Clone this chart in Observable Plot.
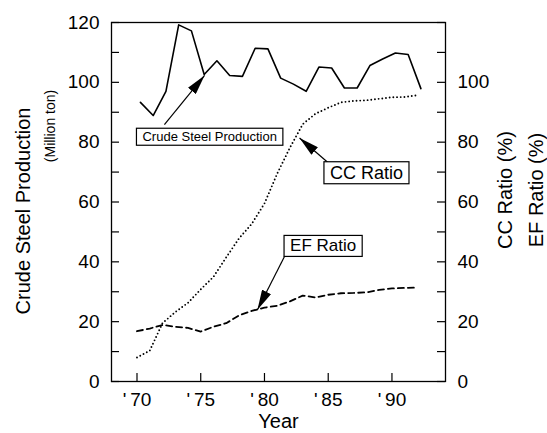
<!DOCTYPE html>
<html>
<head>
<meta charset="utf-8">
<script src="https://cdn.jsdelivr.net/npm/d3@7"></script>
<script src="https://cdn.jsdelivr.net/npm/@observablehq/plot@0.6"></script>
<style>
  html, body { margin: 0; padding: 0; background: #fff; }
  svg { display: block; }
</style>
</head>
<body>
<div id="chart"></div>
<script>
// ---- data ----
const years = [1970, 1971, 1972, 1973, 1974, 1975, 1976, 1977, 1978, 1979, 1980,
               1981, 1982, 1983, 1984, 1985, 1986, 1987, 1988, 1989, 1990, 1991, 1992];
// Crude steel production (million ton), left axis
const steelProduction = [93.3, 88.9, 97.0, 119.2, 117.2, 102.6, 107.2, 102.3, 102.0, 111.4, 111.2,
                         101.4, 99.4, 97.0, 105.1, 104.8, 98.1, 98.1, 105.6, 107.8, 109.8, 109.3, 97.9];
// Continuous casting ratio (%), right axis
const ccRatio = [8.0, 10.3, 19.5, 23.2, 26.3, 30.8, 35.0, 41.5, 47.8, 52.7, 59.5,
                 69.5, 78.2, 86.0, 89.5, 91.5, 93.3, 93.8, 94.0, 94.5, 95.0, 95.1, 95.7];
// Electric furnace ratio (%), right axis
const efRatio = [16.8, 17.7, 18.9, 18.3, 17.9, 16.7, 18.3, 19.5, 22.1, 23.6, 24.7,
                 25.3, 26.8, 28.7, 28.1, 29.0, 29.5, 29.6, 29.8, 30.6, 31.1, 31.3, 31.4];

// axis ticks / labels
const xTickYears = [1970, 1975, 1980, 1985, 1990];
const leftTickValues = [0, 10, 20, 30, 40, 50, 60, 70, 80, 90, 100, 110, 120];
const leftLabelValues = [0, 20, 40, 60, 80, 100, 120];
const rightTickValues = [0, 10, 20, 30, 40, 50, 60, 70, 80, 90, 100, 110, 120];
const rightLabelValues = [0, 20, 40, 60, 80, 100];

// annotation texts and arrow endpoints (data units)
const annotationTexts = ["Crude Steel Production", "CC Ratio", "EF Ratio"];
const annotationX = [1975.7, 1988.0, 1984.6];
const annotationY = [81.7, 69.7, 45.3];
const annotationSize = [13, 18, 17];
const arrowFromX = [1972.15, 1985.0, 1981.6];
const arrowFromY = [85.9, 73.1, 42.0];
const arrowToX = [1975.3, 1982.75, 1979.45];
const arrowToY = [102.3, 81.4, 24.0];

// ---- layout ----
const W = 547, H = 433;
const mTop = 22, mRight = 102, mBottom = 52, mLeft = 111;
const frameW = W - mLeft - mRight;
const frameH = H - mTop - mBottom;
const tickLen = 8;
const steelYearShift = 0.27;

const rows = years.map((year, i) => ({year, steel: steelProduction[i], cc: ccRatio[i], ef: efRatio[i]}));
const annotations = annotationTexts.map((text, i) => ({text, x: annotationX[i], y: annotationY[i], size: annotationSize[i]}));
const arrows = annotationTexts.map((t, i) => ({x1: arrowFromX[i], y1: arrowFromY[i], x2: arrowToX[i], y2: arrowToY[i]}));

const font = "'Liberation Sans', Arial, Helvetica, sans-serif";

const chart = Plot.plot({
  width: W,
  height: H,
  marginTop: mTop, marginRight: mRight, marginBottom: mBottom, marginLeft: mLeft,
  x: {domain: [1968, 1994.2], label: null},
  y: {domain: [0, 120], label: null},
  style: {fontFamily: font, fontSize: "19px", color: "#000", background: "#fff", overflow: "visible"},
  marks: [
    Plot.frame({stroke: "#000", strokeWidth: 1.3}),
    Plot.tickY(leftTickValues, {y: d => d, insetRight: frameW - tickLen, stroke: "#000", strokeWidth: 1.2}),
    Plot.tickY(rightTickValues, {y: d => d, insetLeft: frameW - tickLen, stroke: "#000", strokeWidth: 1.2}),
    Plot.tickX(xTickYears, {x: d => d, insetTop: frameH - tickLen, stroke: "#000", strokeWidth: 1.2}),
    Plot.axisY({anchor: "left", ticks: leftLabelValues, tickSize: 0, tickPadding: 12, label: null, fontSize: 19}),
    Plot.axisY({anchor: "right", ticks: rightLabelValues, tickSize: 0, tickPadding: 12, label: null, fontSize: 19}),
    Plot.axisX({anchor: "bottom", ticks: xTickYears, tickFormat: d => "'\u2009" + String(d).slice(2), tickSize: 0, tickPadding: 11, label: null, fontSize: 19}),
    Plot.line(rows, {x: d => d.year + steelYearShift, y: "steel", stroke: "#000", strokeWidth: 1.6}),
    Plot.line(rows, {x: "year", y: "cc", stroke: "#000", strokeWidth: 1.9, strokeDasharray: "0,3.7", strokeLinecap: "round"}),
    Plot.line(rows, {x: "year", y: "ef", stroke: "#000", strokeWidth: 1.8, strokeDasharray: "6,4"}),
    Plot.link(arrows, {x1: "x1", y1: "y1", x2: "x2", y2: "y2", stroke: "#000", strokeWidth: 1.2}),
    Plot.text(annotations, {x: "x", y: "y", text: "text", fontSize: d => d.size, fill: "#000"}),
    // axis titles
    Plot.text(["Crude Steel Production"], {text: d => d, frameAnchor: "left", textAnchor: "middle", lineAnchor: "middle", dx: -88, dy: 9, rotate: -90, fontSize: 20, fill: "#000"}),
    Plot.text(["(Million ton)"], {text: d => d, frameAnchor: "left", textAnchor: "middle", lineAnchor: "middle", dx: -61, dy: -76, rotate: -90, fontSize: 14, fill: "#000"}),
    Plot.text(["CC Ratio (%)"], {text: d => d, frameAnchor: "right", textAnchor: "middle", lineAnchor: "middle", dx: 60, dy: -12, rotate: -90, fontSize: 20, fill: "#000"}),
    Plot.text(["EF Ratio (%)"], {text: d => d, frameAnchor: "right", textAnchor: "middle", lineAnchor: "middle", dx: 91, dy: -12, rotate: -90, fontSize: 20, fill: "#000"}),
    Plot.text(["Year"], {text: d => d, frameAnchor: "bottom", textAnchor: "middle", lineAnchor: "middle", dy: 40, fontSize: 20, fill: "#000"})
  ]
});

document.getElementById("chart").appendChild(chart);

// ---- post-process: filled arrowheads and boxes around annotation labels ----
const svg = d3.select(chart.tagName.toLowerCase() === "svg" ? chart : chart.querySelector("svg"));
const defs = svg.insert("defs", ":first-child");
defs.append("marker")
  .attr("id", "ann-head")
  .attr("viewBox", "0 0 20 10")
  .attr("refX", 20).attr("refY", 5)
  .attr("markerWidth", 20).attr("markerHeight", 10)
  .attr("markerUnits", "userSpaceOnUse")
  .attr("orient", "auto")
  .append("path").attr("d", "M0,0L20,5L0,10Z").attr("fill", "#000");

svg.selectAll('g[aria-label="link"] path').attr("marker-end", "url(#ann-head)");

svg.selectAll("text").each(function() {
  if (!annotationTexts.includes(this.textContent)) return;
  const tf = this.getAttribute("transform") || "";
  if (tf.includes("rotate")) return; // skip axis titles
  const bb = this.getBBox();
  const padX = 6, padY = 1;
  const rect = document.createElementNS("http://www.w3.org/2000/svg", "rect");
  rect.setAttribute("x", bb.x - padX);
  rect.setAttribute("y", bb.y - padY);
  rect.setAttribute("width", bb.width + 2 * padX);
  rect.setAttribute("height", bb.height + 2 * padY);
  rect.setAttribute("fill", "#fff");
  rect.setAttribute("stroke", "#000");
  rect.setAttribute("stroke-width", 1.2);
  if (tf) rect.setAttribute("transform", tf);
  this.parentNode.insertBefore(rect, this);
});
</script>
</body>
</html>
